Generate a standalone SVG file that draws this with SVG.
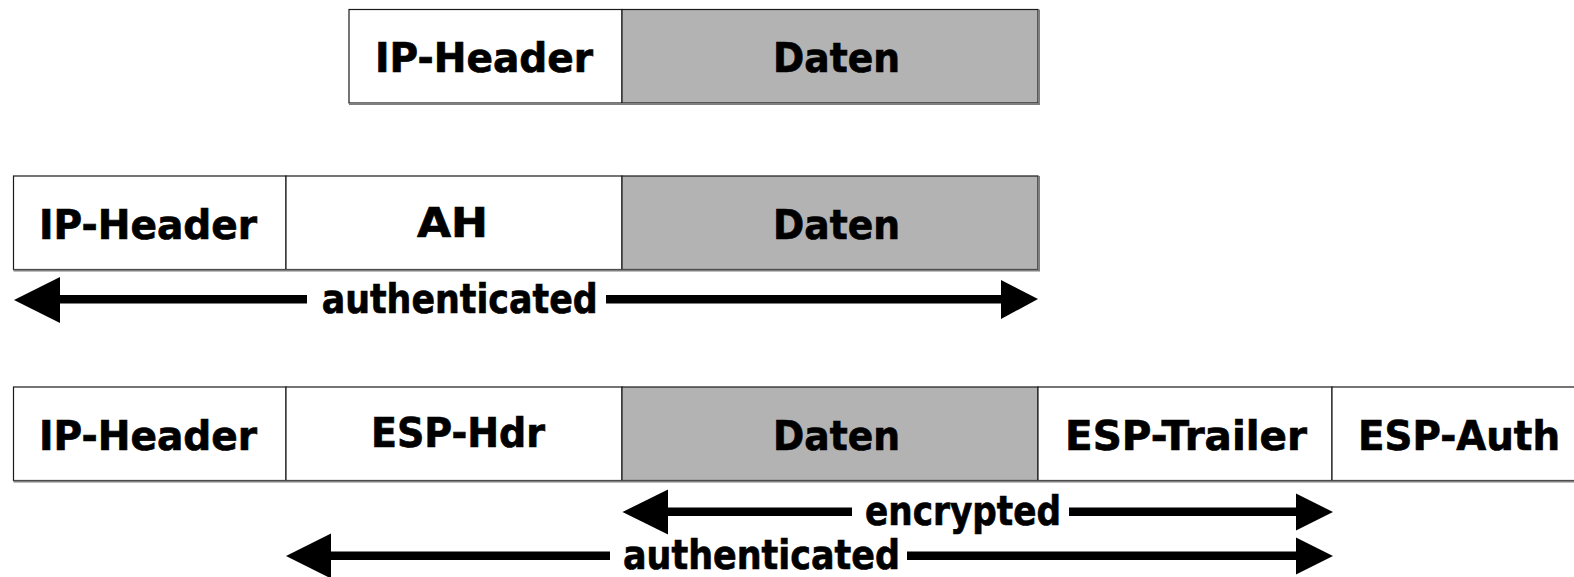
<svg xmlns="http://www.w3.org/2000/svg" width="1574" height="577" viewBox="0 0 1574 577">
<style>
.cell{stroke:#1a1a1a;stroke-width:1.2}
.w{fill:#ffffff}
.g{fill:#b3b3b3}
.sh{fill:none;stroke:#7f7f7f;stroke-width:2}
.t{font-family:"DejaVu Sans","Liberation Sans",sans-serif;font-weight:bold;font-size:41px;fill:#000;stroke:#000;stroke-width:0.7;text-anchor:middle}
.ln{fill:#000}
.hd{fill:#000}
</style>
<rect width="1574" height="577" fill="#ffffff"/>

<g id="row1">
  <g id="r1-ip">
    <rect class="cell w" x="349" y="9.5" width="273" height="93.5"/>
    <text class="t" x="484" y="72" textLength="218" lengthAdjust="spacingAndGlyphs">IP-Header</text>
  </g>
  <g id="r1-daten">
    <rect class="cell g" x="622" y="9.5" width="416" height="93.5"/>
    <text class="t" x="836.5" y="72" textLength="127" lengthAdjust="spacingAndGlyphs">Daten</text>
  </g>
  <polyline class="sh" points="349,104 1039,104 1039,9.5"/>
</g>

<g id="row2">
  <g id="r2-ip">
    <rect class="cell w" x="13.5" y="176" width="272.5" height="93.5"/>
    <text class="t" x="148" y="239" textLength="218" lengthAdjust="spacingAndGlyphs">IP-Header</text>
  </g>
  <g id="r2-ah">
    <rect class="cell w" x="286" y="176" width="336" height="93.5"/>
    <text class="t" x="452.5" y="236.5" textLength="71" lengthAdjust="spacingAndGlyphs">AH</text>
  </g>
  <g id="r2-daten">
    <rect class="cell g" x="622" y="176" width="416" height="93.5"/>
    <text class="t" x="836.5" y="239" textLength="127" lengthAdjust="spacingAndGlyphs">Daten</text>
  </g>
  <polyline class="sh" points="13.5,270.5 1039,270.5 1039,176"/>
</g>

<g id="row3">
  <g id="r3-ip">
    <rect class="cell w" x="13.5" y="387" width="272.5" height="93.5"/>
    <text class="t" x="148" y="450" textLength="218" lengthAdjust="spacingAndGlyphs">IP-Header</text>
  </g>
  <g id="r3-esphdr">
    <rect class="cell w" x="286" y="387" width="336" height="93.5"/>
    <text class="t" x="458" y="447" textLength="174" lengthAdjust="spacingAndGlyphs">ESP-Hdr</text>
  </g>
  <g id="r3-daten">
    <rect class="cell g" x="622" y="387" width="416" height="93.5"/>
    <text class="t" x="836.5" y="450" textLength="127" lengthAdjust="spacingAndGlyphs">Daten</text>
  </g>
  <g id="r3-trailer">
    <rect class="cell w" x="1038" y="387" width="294" height="93.5"/>
    <text class="t" x="1186" y="450" textLength="242" lengthAdjust="spacingAndGlyphs">ESP-Trailer</text>
  </g>
  <g id="r3-auth">
    <rect class="cell w" x="1332" y="387" width="260" height="93.5"/>
    <text class="t" x="1459" y="450" textLength="202" lengthAdjust="spacingAndGlyphs">ESP-Auth</text>
  </g>
  <line class="sh" x1="13.5" y1="481.5" x2="1574" y2="481.5"/>
</g>

<g id="connectors">
  <g id="arrow-ah-auth">
    <polygon class="hd" points="14,300 60,277 60,323"/>
    <rect class="ln" x="59" y="295" width="248" height="8.5"/>
    <rect class="ln" x="606" y="295" width="397" height="8.5"/>
    <polygon class="hd" points="1038,299 1001,280 1001,319"/>
    <text class="t" x="459.7" y="313" textLength="276" lengthAdjust="spacingAndGlyphs">authenticated</text>
  </g>
  <g id="arrow-esp-enc">
    <polygon class="hd" points="622.5,512 668,489.5 668,534.5"/>
    <rect class="ln" x="667" y="507.5" width="185" height="8.5"/>
    <rect class="ln" x="1069" y="507.5" width="228" height="8.5"/>
    <polygon class="hd" points="1333,512 1296,493.5 1296,530.5"/>
    <text class="t" x="963" y="524.5" textLength="196" lengthAdjust="spacingAndGlyphs">encrypted</text>
  </g>
  <g id="arrow-esp-auth">
    <polygon class="hd" points="286,556 331,533.5 331,578.5"/>
    <rect class="ln" x="330" y="551.5" width="280" height="8.5"/>
    <rect class="ln" x="907" y="551.5" width="390" height="8.5"/>
    <polygon class="hd" points="1333,556 1296,537.5 1296,574.5"/>
    <text class="t" x="761.5" y="568.5" textLength="277" lengthAdjust="spacingAndGlyphs">authenticated</text>
  </g>
</g>
</svg>
